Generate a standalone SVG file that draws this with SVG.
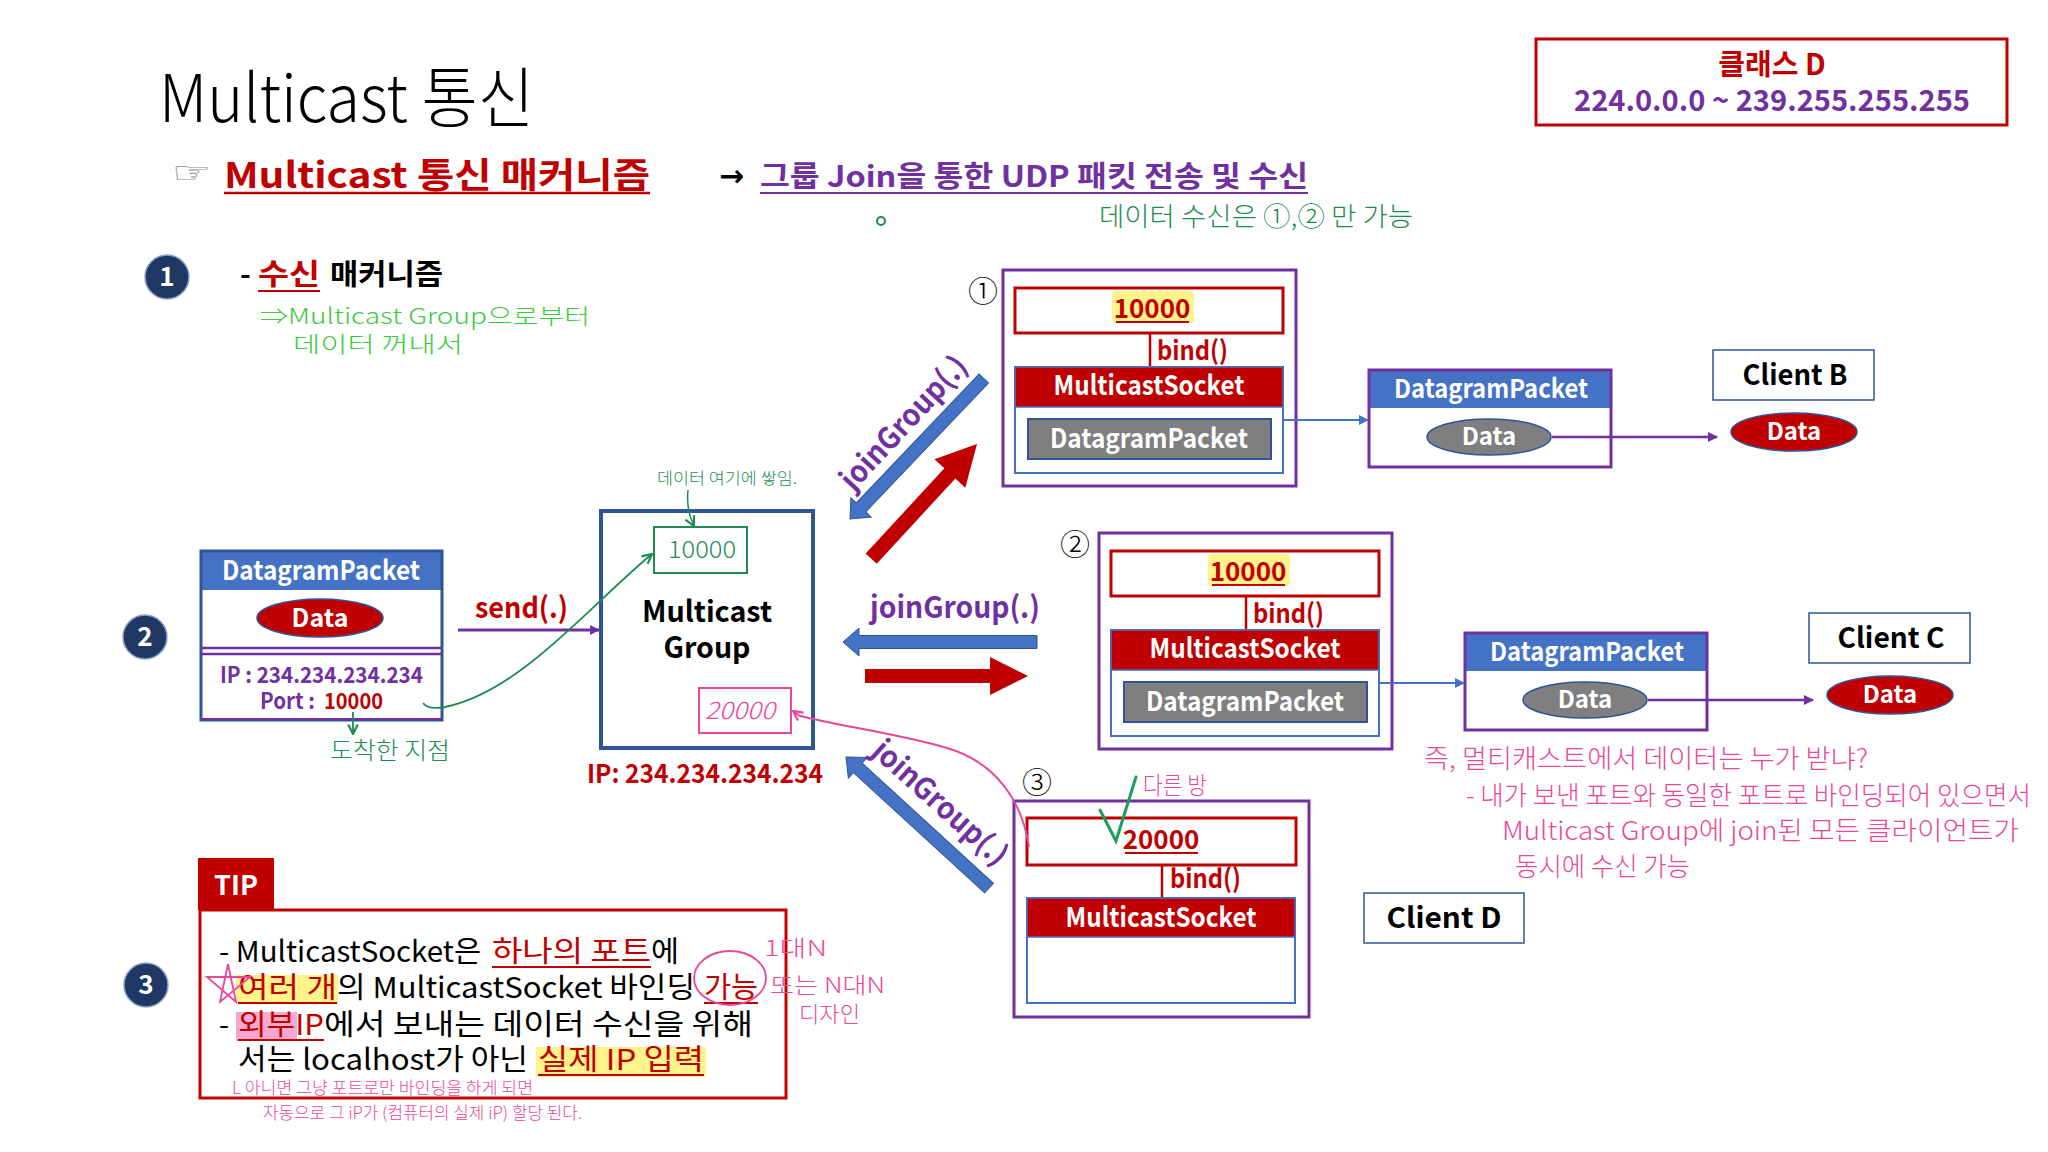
<svg xmlns="http://www.w3.org/2000/svg" width="2048" height="1152" viewBox="0 0 2048 1152">
<style>
text{font-family:'Noto Sans CJK KR','Noto Sans',sans-serif}
.b{font-weight:700}
.red{fill:#C00000}
.pur{fill:#7030A0}
.wht{fill:#fff}
.blk{fill:#000}
.hand{font-weight:300}
.g1{fill:#1E8C50}
.g2{fill:#3CCB3C}
.pk{fill:#E8479A}
.mid{text-anchor:middle}
.outer{fill:#fff;stroke:#7030A0;stroke-width:3}
.port{fill:#fff;stroke:#C00000;stroke-width:3}
.sock{fill:#fff;stroke:#4472C4;stroke-width:2}
.sockh{fill:#C00000;stroke:#4472C4;stroke-width:1.5}
.gdp{fill:#7F7F7F;stroke:#2F5597;stroke-width:2}
.hdr{fill:#4472C4}
.lbl{fill:#fff;stroke:#2F5597;stroke-width:1.5}
.dred{fill:#C00000;stroke:#2F5597;stroke-width:1.5}
.dgray{fill:#7F7F7F;stroke:#2F5597;stroke-width:1.5}
.hl{fill:#FFF38C}
.ul{stroke:#C00000;stroke-width:2}
.badge{fill:#1F3864;stroke:#8EA2C8;stroke-width:1.5}
.bar{stroke:#C00000;stroke-width:2.5}
.blueA{fill:#4472C4;stroke:#2F5597;stroke-width:1}
.redA{fill:#C00000}
</style>
<defs>
<marker id="mPur" viewBox="0 0 10 10" refX="9" refY="5" markerWidth="10" markerHeight="10" markerUnits="userSpaceOnUse" orient="auto"><path d="M0,0 L10,5 L0,10 z" fill="#7030A0"/></marker>
<marker id="mBlue" viewBox="0 0 10 10" refX="9" refY="5" markerWidth="10" markerHeight="10" markerUnits="userSpaceOnUse" orient="auto"><path d="M0,0 L10,5 L0,10 z" fill="#4472C4"/></marker>
<marker id="mGreen" viewBox="0 0 10 10" refX="9" refY="5" markerWidth="12" markerHeight="12" markerUnits="userSpaceOnUse" orient="auto"><path d="M1,1 L9,5 L1,9" fill="none" stroke="#1E8C50" stroke-width="1.8"/></marker>
<marker id="mPink" viewBox="0 0 10 10" refX="9" refY="5" markerWidth="12" markerHeight="12" markerUnits="userSpaceOnUse" orient="auto"><path d="M1,1 L9,5 L1,9" fill="none" stroke="#E8479A" stroke-width="1.8"/></marker>
<polygon id="blueArrow" points="0,0 16,-14 16,-6.5 194,-6.5 194,6.5 16,6.5 16,14"/>
</defs>
<rect width="2048" height="1152" fill="#fff"/>

<g id="title">
<text x="159" y="122" font-size="66" font-weight="300" textLength="375" lengthAdjust="spacingAndGlyphs">Multicast 통신</text>
<text x="172" y="183" font-size="30" fill="#8C8C8C" style="font-family:'DejaVu Sans',sans-serif" textLength="40" lengthAdjust="spacingAndGlyphs">☞</text>
<text x="224" y="188" font-size="35" class="b red" textLength="426" lengthAdjust="spacingAndGlyphs">Multicast 통신 매커니즘</text>
<line x1="224" y1="193" x2="650" y2="193" stroke="#C00000" stroke-width="2.5"/>
<text x="719" y="186" font-size="30" class="b" style="font-family:'DejaVu Sans',sans-serif" textLength="25" lengthAdjust="spacingAndGlyphs">→</text>
<text x="760" y="187" font-size="29" class="b pur" textLength="548" lengthAdjust="spacingAndGlyphs">그룹 Join을 통한 UDP 패킷 전송 및 수신</text>
<line x1="760" y1="193" x2="1308" y2="193" stroke="#7030A0" stroke-width="2"/>
<circle cx="881" cy="221" r="4" fill="none" stroke="#1E8C50" stroke-width="2"/>
<text x="1099" y="226" font-size="26" class="g1 hand" textLength="314" lengthAdjust="spacingAndGlyphs">데이터 수신은 ①,② 만 가능</text>
</g>

<g id="classD">
<rect x="1536" y="39" width="471" height="86" fill="#fff" stroke="#C00000" stroke-width="3"/>
<text x="1772" y="75" font-size="29" class="b red mid">클래스 D</text>
<text x="1574" y="111" font-size="29" class="b pur" textLength="396" lengthAdjust="spacingAndGlyphs">224.0.0.0 ~ 239.255.255.255</text>
</g>

<g id="section1">
<circle cx="167" cy="277" r="22" class="badge"/>
<text x="167" y="286" font-size="26" class="b wht mid">1</text>
<text x="240" y="285" font-size="29" class="b">-</text>
<text x="258" y="285" font-size="29" class="b red" textLength="62" lengthAdjust="spacingAndGlyphs">수신</text>
<line x1="258" y1="291" x2="320" y2="291" class="ul"/>
<text x="330" y="285" font-size="29" class="b" textLength="113" lengthAdjust="spacingAndGlyphs">매커니즘</text>
<text x="260" y="324" font-size="22" class="g2 hand" textLength="330" lengthAdjust="spacingAndGlyphs">⇒Multicast Group으로부터</text>
<text x="293" y="352" font-size="22" class="g2 hand" textLength="170" lengthAdjust="spacingAndGlyphs">데이터 꺼내서</text>
</g>

<g id="section2badge">
<circle cx="145" cy="637" r="22" class="badge"/>
<text x="145" y="646" font-size="26" class="b wht mid">2</text>
</g>

<g id="senderPacket">
<rect x="201" y="551" width="241" height="169" fill="#fff"/>
<rect x="201" y="551" width="241" height="39" class="hdr"/>
<rect x="201" y="551" width="241" height="169" fill="none" stroke="#2F5597" stroke-width="3"/>
<line x1="201" y1="648" x2="442" y2="648" stroke="#7030A0" stroke-width="2.5"/>
<line x1="201" y1="654" x2="442" y2="654" stroke="#7030A0" stroke-width="2.5"/>
<line x1="201" y1="719" x2="442" y2="719" stroke="#7030A0" stroke-width="2"/>
<text x="321" y="580" font-size="27" class="b wht mid" textLength="198" lengthAdjust="spacingAndGlyphs">DatagramPacket</text>
<ellipse cx="320" cy="618" rx="63" ry="19" class="dred"/>
<text x="320" y="627" font-size="25" class="b wht mid">Data</text>
<text x="220" y="683" font-size="22" class="b pur" textLength="203" lengthAdjust="spacingAndGlyphs">IP : 234.234.234.234</text>
<text x="260" y="709" font-size="22" class="b pur" textLength="55" lengthAdjust="spacingAndGlyphs">Port :</text>
<text x="324" y="709" font-size="22" class="b red" textLength="59" lengthAdjust="spacingAndGlyphs">10000</text>
<text x="330" y="759" font-size="24" class="g1 hand" textLength="120" lengthAdjust="spacingAndGlyphs">도착한 지점</text>
</g>

<g id="multicastGroup">
<rect x="601" y="511" width="212" height="237" fill="#fff" stroke="#2F5597" stroke-width="4"/>
<rect x="654" y="527" width="93" height="46" fill="#fff" stroke="#1E8C50" stroke-width="2"/>
<text x="702" y="558" font-size="24" class="g1 hand mid" textLength="68" lengthAdjust="spacingAndGlyphs">10000</text>
<text x="707" y="622" font-size="29" class="b mid" textLength="130" lengthAdjust="spacingAndGlyphs">Multicast</text>
<text x="707" y="658" font-size="29" class="b mid" textLength="87" lengthAdjust="spacingAndGlyphs">Group</text>
<rect x="699" y="688" width="92" height="45" fill="#fff" stroke="#E8479A" stroke-width="2"/>
<text x="740" y="719" font-size="24" class="pk hand mid" font-style="italic" textLength="70" lengthAdjust="spacingAndGlyphs">20000</text>
<text x="587" y="783" font-size="26" class="b red" textLength="236" lengthAdjust="spacingAndGlyphs">IP: 234.234.234.234</text>
<text x="657" y="484" font-size="16" class="g1 hand" textLength="140" lengthAdjust="spacingAndGlyphs">데이터 여기에 쌓임.</text>
</g>

<g id="client1">
<text x="983" y="302" font-size="30" class="hand mid">①</text>
<rect x="1003" y="270" width="293" height="216" class="outer"/>
<rect x="1015" y="288" width="268" height="45" class="port"/>
<rect x="1112" y="291" width="82" height="32" rx="4" class="hl"/>
<text x="1152" y="318" font-size="26" class="b red mid">10000</text>
<line x1="1116" y1="322" x2="1189" y2="322" class="ul"/>
<line x1="1150" y1="333" x2="1150" y2="367" class="bar"/>
<text x="1157" y="360" font-size="26" class="b red" textLength="71" lengthAdjust="spacingAndGlyphs">bind()</text>
<rect x="1015" y="367" width="268" height="106" class="sock"/>
<rect x="1015" y="367" width="268" height="40" class="sockh"/>
<text x="1149" y="395" font-size="27" class="b wht mid" textLength="191" lengthAdjust="spacingAndGlyphs">MulticastSocket</text>
<rect x="1028" y="419" width="243" height="40" class="gdp"/>
<text x="1149" y="448" font-size="27" class="b wht mid" textLength="198" lengthAdjust="spacingAndGlyphs">DatagramPacket</text>
</g>

<g id="packetB">
<rect x="1369" y="370" width="242" height="97" fill="#fff"/>
<rect x="1369" y="370" width="242" height="38" class="hdr"/>
<rect x="1369" y="370" width="242" height="97" fill="none" stroke="#7030A0" stroke-width="3"/>
<text x="1491" y="398" font-size="26" class="b wht mid" textLength="194" lengthAdjust="spacingAndGlyphs">DatagramPacket</text>
<ellipse cx="1489" cy="437" rx="62" ry="18" class="dgray"/>
<text x="1489" y="445" font-size="24" class="b wht mid">Data</text>
</g>

<g id="clientB">
<rect x="1713" y="350" width="161" height="50" class="lbl"/>
<text x="1795" y="385" font-size="28" class="b mid" textLength="105" lengthAdjust="spacingAndGlyphs">Client B</text>
<ellipse cx="1794" cy="432" rx="63" ry="19" class="dred"/>
<text x="1794" y="440" font-size="24" class="b wht mid">Data</text>
</g>

<g id="client2">
<text x="1075" y="555" font-size="30" class="hand mid">②</text>
<g transform="translate(96,263)">
<rect x="1003" y="270" width="293" height="216" class="outer"/>
<rect x="1015" y="288" width="268" height="45" class="port"/>
<rect x="1112" y="291" width="82" height="32" rx="4" class="hl"/>
<text x="1152" y="318" font-size="26" class="b red mid">10000</text>
<line x1="1116" y1="322" x2="1189" y2="322" class="ul"/>
<line x1="1150" y1="333" x2="1150" y2="367" class="bar"/>
<text x="1157" y="360" font-size="26" class="b red" textLength="71" lengthAdjust="spacingAndGlyphs">bind()</text>
<rect x="1015" y="367" width="268" height="106" class="sock"/>
<rect x="1015" y="367" width="268" height="40" class="sockh"/>
<text x="1149" y="395" font-size="27" class="b wht mid" textLength="191" lengthAdjust="spacingAndGlyphs">MulticastSocket</text>
<rect x="1028" y="419" width="243" height="40" class="gdp"/>
<text x="1149" y="448" font-size="27" class="b wht mid" textLength="198" lengthAdjust="spacingAndGlyphs">DatagramPacket</text>
</g>
</g>

<g id="packetC" transform="translate(96,263)">
<rect x="1369" y="370" width="242" height="97" fill="#fff"/>
<rect x="1369" y="370" width="242" height="38" class="hdr"/>
<rect x="1369" y="370" width="242" height="97" fill="none" stroke="#7030A0" stroke-width="3"/>
<text x="1491" y="398" font-size="26" class="b wht mid" textLength="194" lengthAdjust="spacingAndGlyphs">DatagramPacket</text>
<ellipse cx="1489" cy="437" rx="62" ry="18" class="dgray"/>
<text x="1489" y="445" font-size="24" class="b wht mid">Data</text>
</g>

<g id="clientC" transform="translate(96,263)">
<rect x="1713" y="350" width="161" height="50" class="lbl"/>
<text x="1795" y="385" font-size="28" class="b mid" textLength="107" lengthAdjust="spacingAndGlyphs">Client C</text>
<ellipse cx="1794" cy="432" rx="63" ry="19" class="dred"/>
<text x="1794" y="440" font-size="24" class="b wht mid">Data</text>
</g>

<g id="client3">
<text x="1037" y="793" font-size="30" class="hand mid">③</text>
<rect x="1014" y="801" width="295" height="216" class="outer"/>
<rect x="1027" y="818" width="269" height="47" class="port"/>
<text x="1161" y="849" font-size="26" class="b red mid">20000</text>
<line x1="1125" y1="853" x2="1198" y2="853" class="ul"/>
<line x1="1162" y1="865" x2="1162" y2="898" class="bar"/>
<text x="1170" y="888" font-size="26" class="b red" textLength="71" lengthAdjust="spacingAndGlyphs">bind()</text>
<rect x="1027" y="898" width="268" height="105" class="sock"/>
<rect x="1027" y="898" width="268" height="39" class="sockh"/>
<text x="1161" y="927" font-size="27" class="b wht mid" textLength="191" lengthAdjust="spacingAndGlyphs">MulticastSocket</text>
<path d="M1100,810 L1116,841 L1136,777" fill="none" stroke="#1E9E5A" stroke-width="3" stroke-linecap="round"/>
<text x="1143" y="794" font-size="24" class="pk hand" textLength="64" lengthAdjust="spacingAndGlyphs">다른 방</text>
</g>

<g id="clientD">
<rect x="1364" y="893" width="160" height="50" class="lbl"/>
<text x="1444" y="928" font-size="28" class="b mid" textLength="115" lengthAdjust="spacingAndGlyphs">Client D</text>
</g>

<g id="connectors">
<line x1="1283" y1="420" x2="1368" y2="420" stroke="#4472C4" stroke-width="2" marker-end="url(#mBlue)"/>
<line x1="1552" y1="437" x2="1717" y2="437" stroke="#7030A0" stroke-width="2.5" marker-end="url(#mPur)"/>
<line x1="1379" y1="683" x2="1464" y2="683" stroke="#4472C4" stroke-width="2" marker-end="url(#mBlue)"/>
<line x1="1648" y1="700" x2="1813" y2="700" stroke="#7030A0" stroke-width="2.5" marker-end="url(#mPur)"/>
<line x1="458" y1="630" x2="599" y2="630" stroke="#7030A0" stroke-width="3" marker-end="url(#mPur)"/>
<text x="475" y="618" font-size="29" class="b red" textLength="93" lengthAdjust="spacingAndGlyphs">send(.)</text>
<use href="#blueArrow" class="blueA" transform="translate(850,519) rotate(-46.4)"/>
<use href="#blueArrow" class="blueA" transform="translate(843,642)"/>
<use href="#blueArrow" class="blueA" transform="translate(846,757) rotate(42.5)"/>
<polygon class="redA" points="0,0 -40,-21 -40,-7.5 -156,-7.5 -156,7.5 -40,7.5 -40,21" transform="translate(977,444) rotate(-47.3)"/>
<polygon class="redA" points="0,0 -38,-19 -38,-7 -163,-7 -163,7 -38,7 -38,19" transform="translate(1028,676)"/>
<text transform="translate(904,423) rotate(-47)" x="0" y="10" font-size="30" class="b pur mid" textLength="170" lengthAdjust="spacingAndGlyphs">joinGroup(.)</text>
<text x="870" y="618" font-size="30" class="b pur" textLength="170" lengthAdjust="spacingAndGlyphs">joinGroup(.)</text>
<text transform="translate(940,803) rotate(42)" x="0" y="10" font-size="30" class="b pur mid" textLength="170" lengthAdjust="spacingAndGlyphs">joinGroup(.)</text>
<path d="M423,703 Q428,710 445,707 C520,692 590,605 652,554" fill="none" stroke="#1E8C50" stroke-width="1.8" marker-end="url(#mGreen)"/>
<line x1="353" y1="712" x2="353" y2="734" stroke="#1E8C50" stroke-width="1.8" marker-end="url(#mGreen)"/>
<path d="M688,490 Q686,510 694,526" fill="none" stroke="#1E8C50" stroke-width="1.5" marker-end="url(#mGreen)"/>
<path d="M1029,847 C1022,800 995,762 947,748 C900,734 840,726 800,716 L793,711" fill="none" stroke="#E8479A" stroke-width="2" marker-end="url(#mPink)"/>
</g>

<g id="note">
<text x="1424" y="768" font-size="26" class="pk hand" textLength="444" lengthAdjust="spacingAndGlyphs">즉, 멀티캐스트에서 데이터는 누가 받냐?</text>
<text x="1466" y="805" font-size="26" class="pk hand" textLength="565" lengthAdjust="spacingAndGlyphs">- 내가 보낸 포트와 동일한 포트로 바인딩되어 있으면서</text>
<text x="1502" y="840" font-size="26" class="pk hand" textLength="517" lengthAdjust="spacingAndGlyphs">Multicast Group에 join된 모든 클라이언트가</text>
<text x="1515" y="876" font-size="26" class="pk hand" textLength="175" lengthAdjust="spacingAndGlyphs">동시에 수신 가능</text>
</g>

<g id="tip">
<circle cx="146" cy="985" r="22" class="badge"/>
<text x="146" y="994" font-size="26" class="b wht mid">3</text>
<rect x="198" y="858" width="76" height="52" fill="#C00000"/>
<text x="236" y="895" font-size="27" class="b wht mid" textLength="44" lengthAdjust="spacingAndGlyphs">TIP</text>
<rect x="200" y="910" width="586" height="188" fill="none" stroke="#C00000" stroke-width="3"/>
<rect x="236" y="975" width="102" height="28" class="hl"/>
<rect x="236" y="1012" width="61" height="29" fill="#F6A9CF"/>
<rect x="536" y="1047" width="170" height="30" class="hl"/>
<text x="219" y="962" font-size="29" textLength="262" lengthAdjust="spacingAndGlyphs">- MulticastSocket은</text>
<text x="492" y="962" font-size="29" class="red" textLength="159" lengthAdjust="spacingAndGlyphs">하나의 포트</text>
<line x1="492" y1="967" x2="651" y2="967" class="ul"/>
<text x="651" y="962" font-size="29" textLength="28" lengthAdjust="spacingAndGlyphs">에</text>
<text x="238" y="998" font-size="29" class="red" textLength="99" lengthAdjust="spacingAndGlyphs">여러 개</text>
<line x1="238" y1="1003" x2="337" y2="1003" class="ul"/>
<text x="337" y="998" font-size="29" textLength="358" lengthAdjust="spacingAndGlyphs">의 MulticastSocket 바인딩</text>
<text x="704" y="998" font-size="29" class="red" textLength="54" lengthAdjust="spacingAndGlyphs">가능</text>
<line x1="704" y1="1003" x2="758" y2="1003" class="ul"/>
<text x="219" y="1035" font-size="29">-</text>
<text x="238" y="1035" font-size="29" class="red" textLength="86" lengthAdjust="spacingAndGlyphs">외부IP</text>
<line x1="238" y1="1040" x2="324" y2="1040" class="ul"/>
<text x="324" y="1035" font-size="29" textLength="429" lengthAdjust="spacingAndGlyphs">에서 보내는 데이터 수신을 위해</text>
<text x="238" y="1070" font-size="29" textLength="290" lengthAdjust="spacingAndGlyphs">서는 localhost가 아닌</text>
<text x="538" y="1070" font-size="29" class="red" textLength="166" lengthAdjust="spacingAndGlyphs">실제 IP 입력</text>
<line x1="538" y1="1075" x2="704" y2="1075" class="ul"/>
<ellipse cx="730" cy="978" rx="36" ry="27" fill="none" stroke="#E8479A" stroke-width="1.8"/>
<path d="M228,964 L236,1002 L207,977 L250,977 L220,1002 Z" fill="none" stroke="#E8479A" stroke-width="1.8"/>
<text x="764" y="956" font-size="22" class="pk hand" textLength="63" lengthAdjust="spacingAndGlyphs">1대N</text>
<text x="770" y="993" font-size="22" class="pk hand" textLength="115" lengthAdjust="spacingAndGlyphs">또는 N대N</text>
<text x="799" y="1022" font-size="22" class="pk hand" textLength="61" lengthAdjust="spacingAndGlyphs">디자인</text>
<text x="232" y="1094" font-size="17" class="pk hand" textLength="301" lengthAdjust="spacingAndGlyphs">L 아니면 그냥 포트로만 바인딩을 하게 되면</text>
<text x="263" y="1119" font-size="17" class="pk hand" textLength="319" lengthAdjust="spacingAndGlyphs">자동으로 그 iP가 (컴퓨터의 실제 iP) 할당 된다.</text>
</g>
</svg>
